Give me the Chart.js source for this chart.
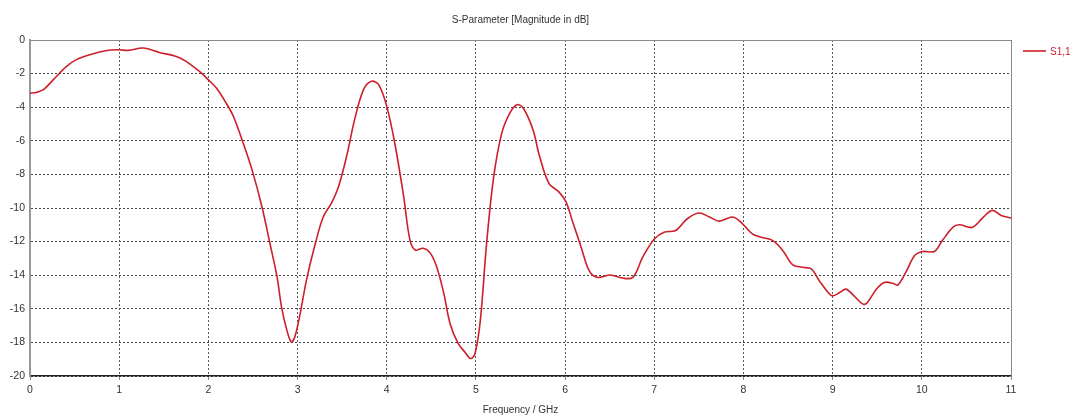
<!DOCTYPE html>
<html>
<head>
<meta charset="utf-8">
<script src="https://cdn.jsdelivr.net/npm/chart.js@4/dist/chart.umd.min.js"></script>
<style>
html,body{margin:0;padding:0;background:#fff;}
canvas{display:block;}
</style>
</head>
<body>
<canvas id="c" width="1070" height="416"></canvas>
<script>
const chartTitle = "S-Parameter [Magnitude in dB]";
const xTitle = "Frequency / GHz";
const seriesName = "S1,1";
const freq = [0.00,0.07,0.15,0.26,0.41,0.52,0.67,0.86,1.00,1.10,1.27,1.45,1.64,1.75,1.90,2.00,2.09,2.20,2.28,2.39,2.49,2.60,2.69,2.77,2.82,2.88,2.93,2.97,3.03,3.10,3.20,3.29,3.38,3.46,3.55,3.64,3.74,3.83,3.91,4.00,4.09,4.19,4.26,4.32,4.41,4.49,4.56,4.64,4.71,4.80,4.88,4.94,4.99,5.05,5.12,5.20,5.29,5.38,5.46,5.53,5.64,5.71,5.82,5.93,6.01,6.08,6.18,6.27,6.36,6.51,6.64,6.76,6.87,7.00,7.11,7.24,7.37,7.50,7.62,7.73,7.88,7.99,8.10,8.20,8.33,8.44,8.55,8.66,8.76,8.85,8.95,9.00,9.08,9.15,9.24,9.34,9.39,9.49,9.58,9.68,9.73,9.82,9.92,10.01,10.14,10.23,10.35,10.42,10.57,10.69,10.79,10.89,10.99,11.00];
const s11 = [-3.17,-3.12,-2.96,-2.37,-1.57,-1.17,-0.88,-0.62,-0.58,-0.62,-0.48,-0.74,-0.98,-1.27,-1.87,-2.37,-2.86,-3.76,-4.54,-6.13,-7.73,-9.91,-12.1,-14.09,-15.88,-17.27,-17.98,-17.67,-16.27,-14.29,-12.1,-10.51,-9.71,-8.72,-6.93,-4.74,-2.95,-2.46,-2.66,-3.95,-6.13,-9.32,-11.9,-12.5,-12.4,-12.7,-13.5,-15.08,-16.87,-18.06,-18.6,-18.96,-18.66,-16.67,-12.1,-8.12,-5.54,-4.35,-3.85,-4.05,-5.34,-6.85,-8.55,-9.04,-9.64,-10.74,-12.33,-13.73,-14.13,-13.99,-14.17,-14.13,-12.93,-11.84,-11.44,-11.34,-10.64,-10.30,-10.54,-10.78,-10.54,-10.94,-11.54,-11.74,-11.94,-12.53,-13.37,-13.53,-13.63,-14.33,-15.03,-15.23,-15.03,-14.83,-15.23,-15.72,-15.62,-14.83,-14.43,-14.49,-14.59,-13.83,-12.83,-12.59,-12.59,-11.94,-11.14,-11.0,-11.14,-10.54,-10.14,-10.44,-10.58,-10.6];
const xTicks = [0,1,2,3,4,5,6,7,8,9,10,11];
const yTicks = [0,-2,-4,-6,-8,-10,-12,-14,-16,-18,-20];

const lineColor = '#cc1f2a';
const FONT = '"Liberation Sans", Arial, sans-serif';

const extras = {
  id: 'extras',
  afterDraw(chart) {
    const ctx = chart.ctx, a = chart.chartArea;
    ctx.save();
    ctx.strokeStyle = '#8a8a8a';
    ctx.lineWidth = 1;
    ctx.beginPath();
    ctx.moveTo(a.left, a.top + 0.5);
    ctx.lineTo(a.right + 0.5, a.top + 0.5);
    ctx.lineTo(a.right + 0.5, a.bottom);
    ctx.stroke();
    ctx.fillStyle = '#333';
    ctx.font = '10px ' + FONT;
    ctx.textAlign = 'center';
    ctx.textBaseline = 'middle';
    ctx.fillText(chartTitle, (a.left + a.right) / 2, 20);
    ctx.strokeStyle = lineColor;
    ctx.lineWidth = 1.6;
    ctx.beginPath();
    ctx.moveTo(1023, 51);
    ctx.lineTo(1046, 51);
    ctx.stroke();
    ctx.fillStyle = lineColor;
    ctx.textAlign = 'left';
    ctx.font = '10px ' + FONT;
    ctx.fillText(seriesName, 1050, 52);
    ctx.restore();
  }
};

new Chart(document.getElementById('c'), {
  type: 'line',
  data: {
    datasets: [{
      label: seriesName,
      data: freq.map((f, i) => ({x: f, y: s11[i]})),
      borderColor: lineColor,
      borderWidth: 1.6,
      pointRadius: 0,
      fill: false,
      tension: 0.35
    }]
  },
  options: {
    responsive: false,
    animation: false,
    layout: { padding: { left: 0, top: 40, right: 59, bottom: 0 } },
    plugins: { legend: { display: false }, title: { display: false }, tooltip: { enabled: false } },
    scales: {
      x: {
        type: 'linear', min: 0, max: 11,
        afterBuildTicks: s => { s.ticks = xTicks.map(v => ({value: v})); },
        afterFit: s => { s.height = 40; },
        grid: { color: '#555', lineWidth: 1, drawTicks: true, tickLength: 4, tickColor: '#888', tickBorderDash: [], drawOnChartArea: true },
        border: { display: true, color: '#222', width: 1.5, dash: [2, 2] },
        ticks: { color: '#333', font: { family: FONT, size: 10.5 }, padding: 4, maxRotation: 0, autoSkip: false },
        title: { display: true, text: xTitle, color: '#333', font: { family: FONT, size: 10 }, padding: { top: 0, bottom: 0 } }
      },
      y: {
        type: 'linear', min: -20, max: 0,
        afterBuildTicks: s => { s.ticks = yTicks.map(v => ({value: v})); },
        afterFit: s => { s.width = 30; },
        grid: { color: '#444', lineWidth: 1, drawTicks: false },
        border: { display: true, color: '#999', width: 2, dash: [2, 2] },
        ticks: { color: '#333', font: { family: FONT, size: 10.5 }, padding: 5, autoSkip: false }
      }
    }
  },
  plugins: [extras]
});
</script>
</body>
</html>
